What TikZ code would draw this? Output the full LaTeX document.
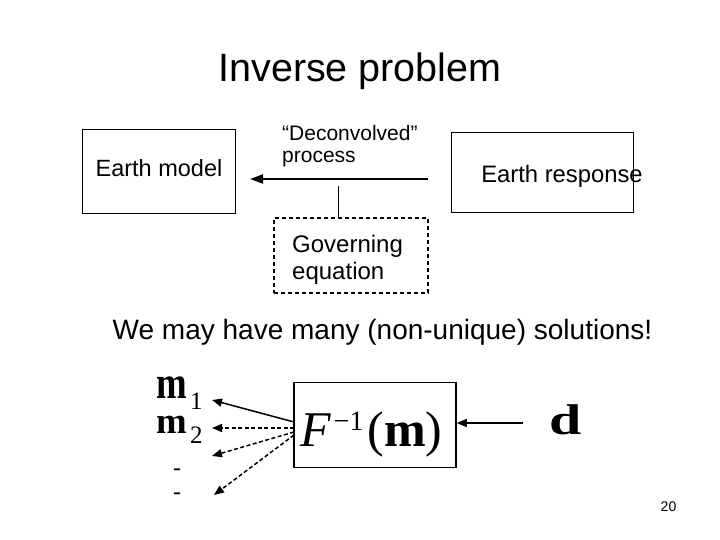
\documentclass[tikz,border=0pt]{standalone}
\usepackage{fontspec}
\setmainfont{Liberation Sans}
\newfontfamily\tms{Liberation Serif}
\usetikzlibrary{arrows.meta}
\tikzset{
  txt/.style={inner sep=0pt, anchor=base},
  plainbox/.style={draw, line width=1pt, inner sep=0pt},
  dashbox/.style={draw, line width=1.5pt, dash pattern=on 4pt off 3pt, inner sep=0pt},
  bigarrow/.style={line width=2pt, -{Triangle[length=13pt,width=9pt]}},
  solarrow/.style={line width=1.5pt, -{Triangle[length=10pt,width=8pt]}},
  dsharrow/.style={line width=1.5pt, dash pattern=on 4pt off 2.5pt, -{Triangle[length=10pt,width=8pt]}},
}
\begin{document}
\begin{tikzpicture}[x=1pt,y=-1pt]
\useasboundingbox (0,0) rectangle (720,540);
\fill[white] (0,0) rectangle (720,540);

% title
\node[txt] (title) at (360,82) {\fontsize{39.5}{44}\selectfont Inverse problem};

% boxes
\node[plainbox, minimum width=153pt, minimum height=84pt] (earthmodel) at (158.5,172) {};
\node[txt] (emtext) at (159,177) {\fontsize{23.5}{27}\selectfont Earth model};
\node[plainbox, minimum width=182pt, minimum height=80pt] (earthresp) at (542,173) {};
\node[txt] (ertext) at (562,183) {\fontsize{23.8}{27}\selectfont Earth response};

% deconvolved label
\node[txt, anchor=base west] (deconv1) at (282,141) {\fontsize{21}{24}\selectfont “Deconvolved”};
\node[txt, anchor=base west] (deconv2) at (282,163) {\fontsize{21}{24}\selectfont process};

% main arrow
\coordinate (a1s) at (428,179);
\coordinate (a1e) at (250,179);
\draw[bigarrow] (a1s) -- (a1e);

% governing equation
\node[dashbox, minimum width=154pt, minimum height=75pt] (gov) at (351,255.5) {};
\node[txt, anchor=base west] (gov1) at (292,252) {\fontsize{24}{27}\selectfont Governing};
\node[txt, anchor=base west] (gov2) at (292,279) {\fontsize{24}{27}\selectfont equation};
\coordinate (vtop) at (338,186);
\draw[line width=1pt] (vtop) -- (vtop |- gov.north);

% solutions text
\node[txt] (sol) at (382.5,339) {\fontsize{28}{32}\selectfont We may have many (non-unique) solutions!};

% F^{-1}(m) box
\node[plainbox, line width=1.5pt, minimum width=162pt, minimum height=85pt] (finv) at (375,425) {};
\node[txt, anchor=base west] (finvtext) at (300,446) {\tms\fontsize{50}{54}\selectfont\itshape F\kern3pt\upshape\raisebox{16pt}{\fontsize{28}{30}\selectfont −1}\kern4pt(\textbf{m})};

% d
\node[txt] (dsym) at (566,434) {\tms\fontsize{43}{46}\selectfont\scalebox{1.35}[1]{\bfseries d}};
\coordinate (dstart) at (523,423);
\draw[solarrow] (dstart) -- (finv.east |- dstart);

% m1, m2 with subscripts
\node[txt, anchor=base west] (m1) at (156,398) {\tms\fontsize{46}{50}\selectfont\scalebox{0.8}[1]{\bfseries m}};
\node[txt, anchor=base west] (sub1) at (190,409) {\tms\fontsize{25}{28}\selectfont 1};
\node[txt, anchor=base west] (m2) at (156,433) {\tms\fontsize{46}{50}\selectfont\scalebox{0.8}[0.8]{\bfseries m}};
\node[txt, anchor=base west] (sub2) at (190,443) {\tms\fontsize{25}{28}\selectfont 2};
\node[txt] (dash1) at (177,475) {\tms\fontsize{24}{28}\selectfont -};
\node[txt] (dash2) at (177,499) {\tms\fontsize{24}{28}\selectfont -};

% fan of arrows
\coordinate (s1) at (294,422);
\coordinate (s2) at (294,428);
\coordinate (s3) at (294,432);
\coordinate (s4) at (294,435);
\coordinate (t1) at (212,400);
\coordinate (t2) at (212,428);
\coordinate (t3) at (212,456);
\coordinate (t4) at (214,495);
\draw[solarrow] (s1) -- (t1);
\draw[dsharrow] (s2) -- (t2);
\draw[dsharrow] (s3) -- (t3);
\draw[dsharrow] (s4) -- (t4);

% page number
\node[txt] (pagenum) at (668.5,511) {\fontsize{14}{16}\selectfont 20};
\end{tikzpicture}
\end{document}
